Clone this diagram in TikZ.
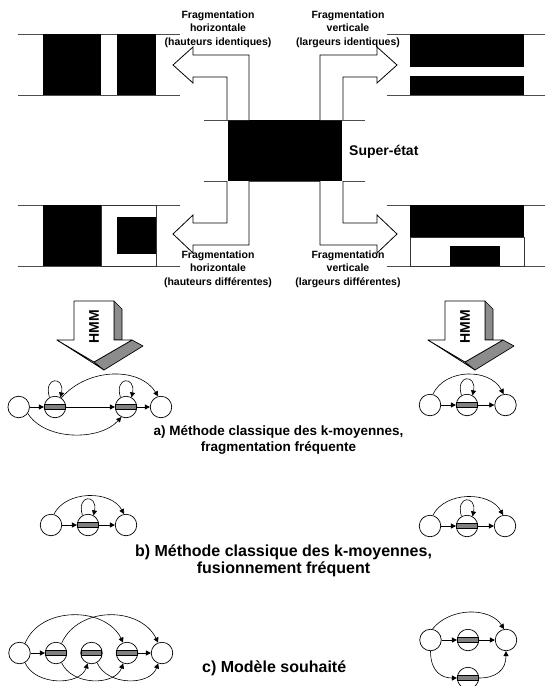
\documentclass[tikz,border=0pt]{standalone}
\usepackage{fontspec}
\setmainfont{Liberation Sans}
\usetikzlibrary{arrows.meta}
\begin{document}
\begin{tikzpicture}[x=1pt,y=-1pt,
  hl/.style={draw=black!70, line width=0.8pt},
  blk/.style={fill=black},
  wbox/.style={draw=black!80, fill=white, line width=0.8pt},
  bent/.style={draw=black, fill=white, line width=0.8pt, line join=miter},
  lab/.style={font=\fontsize{10.5}{13.5}\selectfont\bfseries, align=center, inner sep=0},
  st/.style={circle, draw, fill=white, line width=0.7pt, minimum size=21.5pt, inner sep=0},
  barx/.style={draw, fill=black!50, line width=0.6pt, minimum width=20.5pt, minimum height=4.5pt, inner sep=0},
  arr/.style={line width=0.6pt, -{Triangle[length=5pt,width=5pt]}},
  face/.style={draw=black, fill=white, line width=0.7pt, line join=round},
  side/.style={draw=black, fill=black!45, line width=0.7pt, line join=round},
]
\useasboundingbox (0,0) rectangle (545,686);
\clip (0,0) rectangle (545,686);

% ---------- top-left block ----------
\draw[hl] (18,34) -- (180,34);
\draw[hl] (18,95) -- (180,95);
\fill[blk] (43,34) rectangle (101,95);
\fill[blk] (117,34) rectangle (156,95);

% ---------- top-right block ----------
\draw[hl] (387,34) -- (545,34);
\draw[hl] (387,95) -- (545,95);
\fill[blk] (410,34) rectangle (524,95);
\fill[white] (410,67) rectangle (524,76);

% ---------- centre block ----------
\draw[hl] (204,120) -- (365,120);
\draw[hl] (204,181) -- (365,181);
\fill[blk] (228,120) rectangle (342,181);
\node[anchor=west, inner sep=0, font=\fontsize{14}{16}\selectfont\bfseries] (super) at (349,152) {Super-état};

% ---------- bottom-left block ----------
\draw[hl] (18,205) -- (180,205);
\draw[hl] (18,266) -- (180,266);
\fill[blk] (43,205) rectangle (101,266);
\draw[wbox] (101,205) rectangle (156,266);
\fill[blk] (117,217) rectangle (156,254);

% ---------- bottom-right block ----------
\draw[hl] (387,205) -- (545,205);
\draw[hl] (387,266) -- (545,266);
\fill[blk] (410,205) rectangle (524,237);
\draw[wbox] (410,237) rectangle (524,266);
\fill[blk] (450,246) rectangle (500,266);

% ---------- bent arrows ----------
\draw[bent] (249,120) -- (249,55) -- (193,55) -- (193,47) -- (173,65) -- (193,83) -- (193,77) -- (227,77) -- (227,120);
\draw[bent] (320,120) -- (320,55) -- (377,55) -- (377,47) -- (397,65) -- (377,83) -- (377,77) -- (343,77) -- (343,120);
\draw[bent] (249,181) -- (249,245) -- (193,245) -- (193,253) -- (173,234) -- (193,215) -- (193,223) -- (227,223) -- (227,181);
\draw[bent] (320,181) -- (320,245) -- (377,245) -- (377,253) -- (397,234) -- (377,215) -- (377,223) -- (343,223) -- (343,181);

% ---------- labels ----------
\node[lab] (tl) at (218,29) {Fragmentation\\horizontale\\(hauteurs identiques)};
\node[lab] (tr) at (348,29) {Fragmentation\\verticale\\(largeurs identiques)};
\node[lab] (bl) at (218,269) {Fragmentation\\horizontale\\(hauteurs différentes)};
\node[lab] (br) at (348,269) {Fragmentation\\verticale\\(largeurs différentes)};

% ---------- HMM arrows ----------
\foreach \dx/\nm in {0/hmmL, 371/hmmR}{
  \begin{scope}[xshift=\dx pt]
    \draw[side] (114,301) -- (122,309) -- (122,340) -- (114,340) -- cycle;
    \draw[face] (57,340) -- (104,370) -- (94,362) -- cycle;
    \draw[side] (132,340) -- (143,346) -- (104,370) -- (94,362) -- cycle;
    \draw[face] (74,301) -- (114,301) -- (114,340) -- (132,340) -- (94,362) -- (57,340) -- (74,340) -- cycle;
    \node[rotate=90, inner sep=0, font=\fontsize{14}{14}\selectfont\bfseries] (\nm) at (94,327) {HMM};
  \end{scope}
}

% ---------- graph a (left) ----------
\node[st] (a1) at (18.7,407) {};
\node[st] (a2) at (55,407) {};
\node[st] (a3) at (126,407) {};
\node[st] (a4) at (161,407) {};
\node[barx] at (a2) {};
\node[barx] at (a3) {};
\draw[arr] (a1) -- (a2);
\draw[arr] (a2) -- (a3);
\draw[arr] (a3) -- (a4);
\draw[arr] (a2.120) .. controls (43,376) and (65,376) .. (a2.60);
\draw[arr] (a3.120) .. controls (114,376) and (136,376) .. (a3.60);
\draw[arr] (a2.55) .. controls (88,367) and (140,367) .. (a4.105);
\draw[arr] (a1.-35) .. controls (45,441) and (100,441) .. (a3.-115);

% ---------- graph a (right) ----------
\node[st] (ar1) at (430,405) {};
\node[st] (ar2) at (467,405) {};
\node[st] (ar3) at (505.5,405) {};
\node[barx] at (ar2) {};
\draw[arr] (ar1) -- (ar2);
\draw[arr] (ar2) -- (ar3);
\draw[arr] (ar2.120) .. controls (455,374) and (477,374) .. (ar2.60);
\draw[arr] (ar1.75) .. controls (445,368) and (490,368) .. (ar3.100);

\node[font=\fontsize{13.5}{16}\selectfont\bfseries, align=center, inner sep=0] (la) at (278.5,440) {a) Méthode classique des k-moyennes,\\fragmentation fréquente};

% ---------- graph b (left) ----------
\node[st] (b1) at (51,525) {};
\node[st] (b2) at (88,525) {};
\node[st] (b3) at (126,525) {};
\node[barx] at (b2) {};
\draw[arr] (b1) -- (b2);
\draw[arr] (b2) -- (b3);
\draw[arr] (b2.120) .. controls (76,494) and (98,494) .. (b2.60);
\draw[arr] (b1.75) .. controls (66,490) and (111,490) .. (b3.100);

% ---------- graph b (right) ----------
\node[st] (br1) at (430,526) {};
\node[st] (br2) at (467,526) {};
\node[st] (br3) at (505,526) {};
\node[barx] at (br2) {};
\draw[arr] (br1) -- (br2);
\draw[arr] (br2) -- (br3);
\draw[arr] (br2.120) .. controls (455,495) and (477,495) .. (br2.60);
\draw[arr] (br1.75) .. controls (445,491) and (490,491) .. (br3.100);

\node[font=\fontsize{16}{17}\selectfont\bfseries, align=center, inner sep=0] (lb) at (283.5,561) {b) Méthode classique des k-moyennes,\\fusionnement fréquent};

% ---------- graph c (left) ----------
\node[st] (c1) at (19.5,653) {};
\node[st] (c2) at (56,653) {};
\node[st] (c3) at (91.5,653) {};
\node[st] (c4) at (127,653) {};
\node[st] (c5) at (162,653) {};
\node[barx] at (c2) {};
\node[barx] at (c3) {};
\node[barx] at (c4) {};
\draw[arr] (c1) -- (c2);
\draw[arr] (c4) -- (c5);
\draw[arr] (c1.60) .. controls (40,606) and (105,606) .. (c4.110);
\draw[arr] (c2.60) .. controls (78,606) and (140,606) .. (c5.110);
\draw[arr] (c1.-60) .. controls (35,686) and (80,686) .. (c3.-110);
\draw[arr] (c2.-60) .. controls (72,686) and (115,686) .. (c4.-110);
\draw[arr] (c3.-60) .. controls (107,686) and (150,686) .. (c5.-110);

% ---------- graph c (right) ----------
\node[st] (cr1) at (430.5,640) {};
\node[st] (cr2) at (468,640) {};
\node[st] (cr3) at (506,640) {};
\node[st] (cr4) at (468,678) {};
\node[barx] at (cr2) {};
\node[barx] at (cr4) {};
\draw[arr] (cr1) -- (cr2);
\draw[arr] (cr2) -- (cr3);
\draw[arr] (cr1.80) .. controls (450,607) and (490,607) .. (cr3.100);
\draw[arr] (cr1.-90) .. controls (430.5,672) and (442,678) .. (cr4.180);
\draw[arr] (cr4.0) .. controls (496,678) and (506,670) .. (cr3.-90);

\node[anchor=west, font=\fontsize{16}{17}\selectfont\bfseries, inner sep=0] (lc) at (202,668) {c) Modèle souhaité};
\end{tikzpicture}
\end{document}
